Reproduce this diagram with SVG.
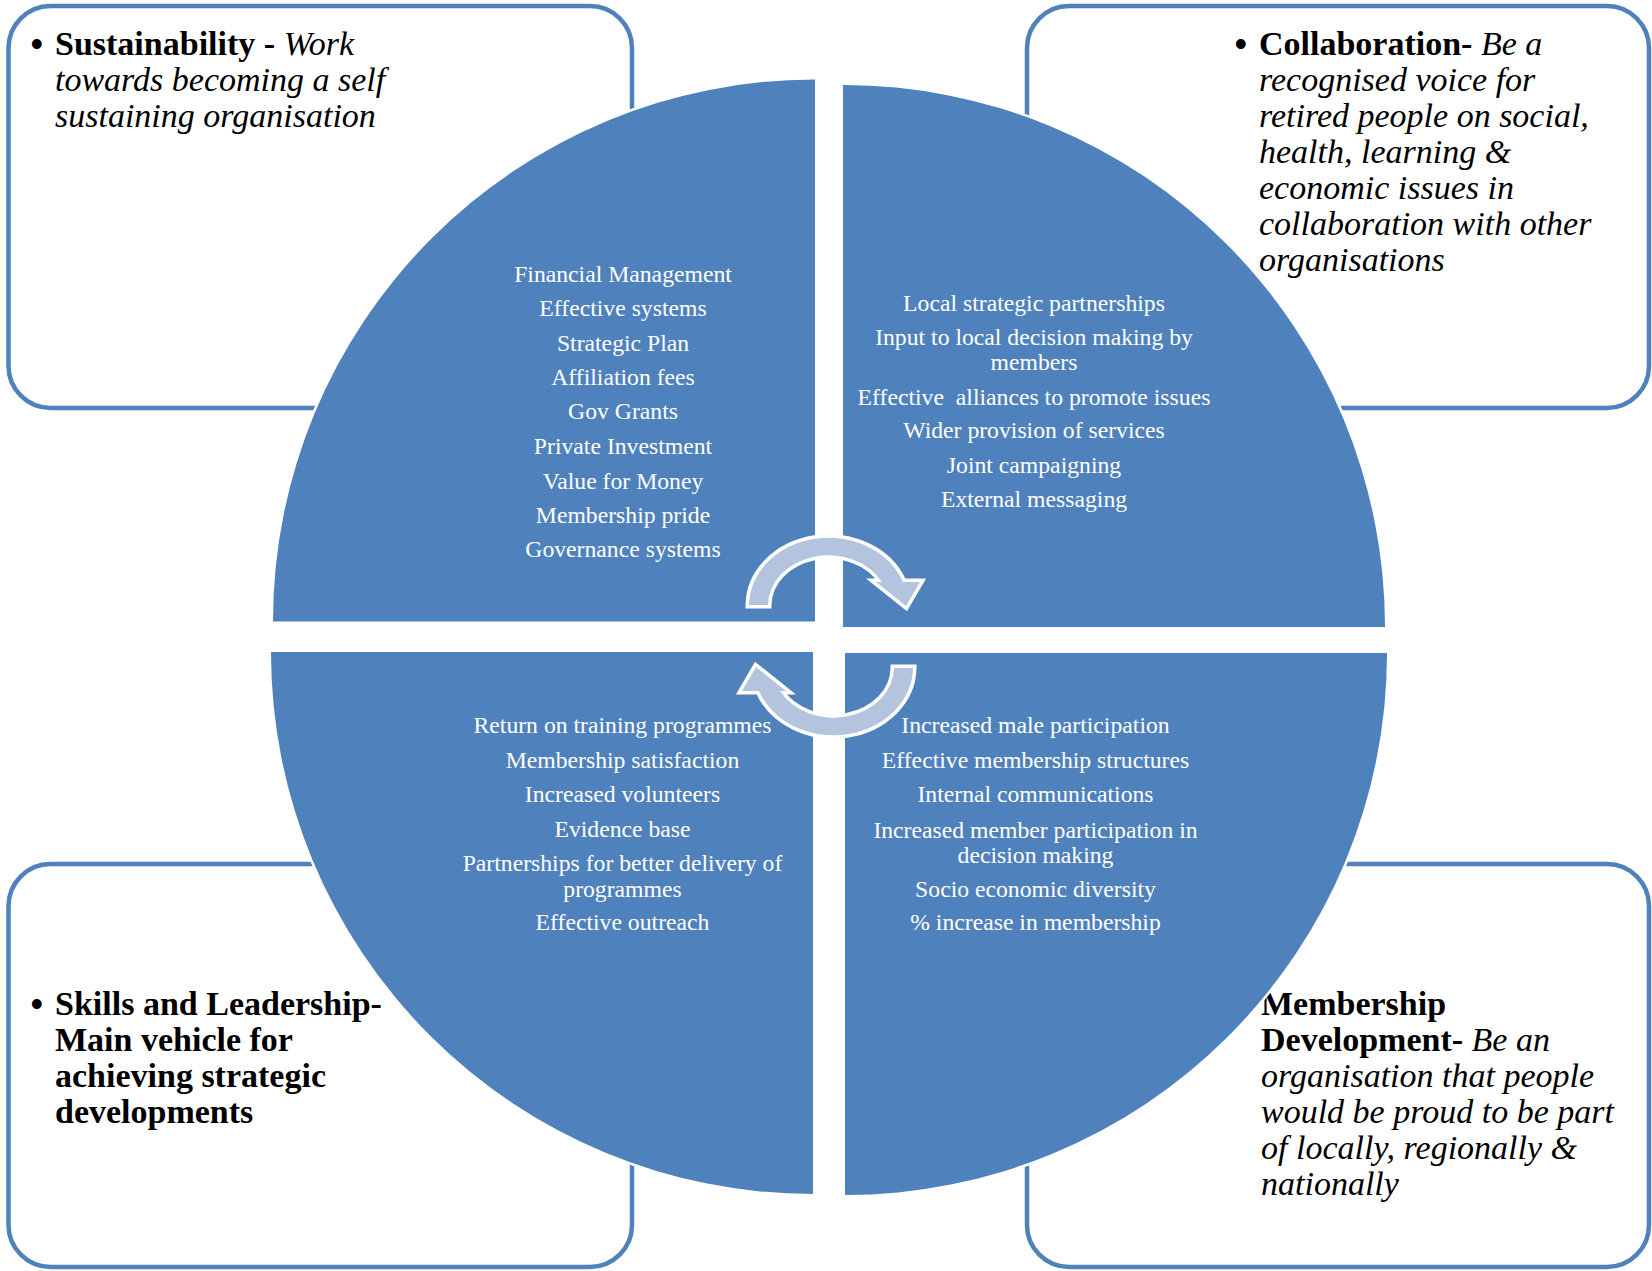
<svg xmlns="http://www.w3.org/2000/svg" width="1652" height="1271" viewBox="0 0 1652 1271">
  <style>
    .box { fill: #ffffff; stroke: #4F81BD; stroke-width: 4.5; }
    .quad { fill: #4F81BD; stroke: #ffffff; stroke-width: 5; paint-order: stroke; }
    .cyc { fill: #B4C4DF; stroke: #ffffff; stroke-width: 7; paint-order: stroke; stroke-linejoin: miter; }
    .head { font-family: "Liberation Serif", "Times New Roman", serif; font-size: 34px; fill: #000000; }
    .dot { font-family: "Liberation Sans", Arial, sans-serif; font-size: 36px; fill: #000000; }
    .b { font-weight: bold; }
    .i { font-style: italic; }
    .item { font-family: "Liberation Serif", "Times New Roman", serif; font-size: 23.7px; fill: #ffffff; text-anchor: middle; }
  </style>

  <!-- corner boxes -->
  <g id="box-sustainability">
    <rect class="box" x="8.5" y="6" width="623.5" height="402" rx="42" ry="42"/>
    <text class="dot" x="30.5" y="56">•</text>
    <text class="head" x="55" y="55"><tspan class="b">Sustainability -</tspan><tspan class="i"> Work</tspan></text>
    <text class="head i" x="55" y="91">towards becoming a self</text>
    <text class="head i" x="55" y="127">sustaining organisation</text>
  </g>

  <g id="box-collaboration">
    <rect class="box" x="1027" y="6" width="622" height="402" rx="42" ry="42"/>
    <text class="dot" x="1234.5" y="56">•</text>
    <text class="head" x="1259" y="55"><tspan class="b">Collaboration-</tspan><tspan class="i"> Be a</tspan></text>
    <text class="head i" x="1259" y="91">recognised voice for</text>
    <text class="head i" x="1259" y="127">retired people on social,</text>
    <text class="head i" x="1259" y="163">health, learning &amp;</text>
    <text class="head i" x="1259" y="199">economic issues in</text>
    <text class="head i" x="1259" y="235">collaboration with other</text>
    <text class="head i" x="1259" y="271">organisations</text>
  </g>

  <g id="box-skills">
    <rect class="box" x="8.5" y="864" width="623.5" height="403" rx="42" ry="42"/>
    <text class="dot" x="30.5" y="1016">•</text>
    <text class="head b" x="55" y="1015">Skills and Leadership-</text>
    <text class="head b" x="55" y="1051">Main vehicle for</text>
    <text class="head b" x="55" y="1087">achieving strategic</text>
    <text class="head b" x="55" y="1123">developments</text>
  </g>

  <g id="box-membership">
    <rect class="box" x="1027" y="864" width="622" height="403" rx="42" ry="42"/>
    <text class="head b" x="1261" y="1015">Membership</text>
    <text class="head" x="1261" y="1051"><tspan class="b">Development-</tspan><tspan class="i"> Be an</tspan></text>
    <text class="head i" x="1261" y="1087">organisation that people</text>
    <text class="head i" x="1261" y="1123">would be proud to be part</text>
    <text class="head i" x="1261" y="1159">of locally, regionally &amp;</text>
    <text class="head i" x="1261" y="1195">nationally</text>
  </g>

  <!-- quarter segments of the central circle -->
  <g id="quad-finance">
    <path class="quad" d="M815,621.5 L273,621.5 A542,542 0 0 1 815,79.5 Z"/>
    <text class="item" x="623" y="282.3">Financial Management</text>
    <text class="item" x="623" y="316">Effective systems</text>
    <text class="item" x="623" y="350.8">Strategic Plan</text>
    <text class="item" x="623" y="384.5">Affiliation fees</text>
    <text class="item" x="623" y="419.3">Gov Grants</text>
    <text class="item" x="623" y="454">Private Investment</text>
    <text class="item" x="623" y="488.8">Value for Money</text>
    <text class="item" x="623" y="522.5">Membership pride</text>
    <text class="item" x="623" y="557.3">Governance systems</text>
  </g>

  <g id="quad-partnership">
    <path class="quad" d="M843,627 L843,85 A542,542 0 0 1 1385,627 Z"/>
    <text class="item" x="1034" y="310.7">Local strategic partnerships</text>
    <text class="item" x="1034" y="344.5">Input to local decision making by</text>
    <text class="item" x="1034" y="369.5">members</text>
    <text class="item" x="1034" y="404.5" xml:space="preserve">Effective  alliances to promote issues</text>
    <text class="item" x="1034" y="438.2">Wider provision of services</text>
    <text class="item" x="1034" y="473">Joint campaigning</text>
    <text class="item" x="1034" y="506.7">External messaging</text>
  </g>

  <g id="quad-skills">
    <path class="quad" d="M813,652 L813,1194 A542,542 0 0 1 271,652 Z"/>
    <text class="item" x="622.5" y="733.2">Return on training programmes</text>
    <text class="item" x="622.5" y="768">Membership satisfaction</text>
    <text class="item" x="622.5" y="801.7">Increased volunteers</text>
    <text class="item" x="622.5" y="836.5">Evidence base</text>
    <text class="item" x="622.5" y="871.2">Partnerships for better delivery of</text>
    <text class="item" x="622.5" y="896.5">programmes</text>
    <text class="item" x="622.5" y="930.3">Effective outreach</text>
  </g>

  <g id="quad-membership">
    <path class="quad" d="M845,653 L1387,653 A542,542 0 0 1 845,1195 Z"/>
    <text class="item" x="1035.5" y="733.2">Increased male participation</text>
    <text class="item" x="1035.5" y="768">Effective membership structures</text>
    <text class="item" x="1035.5" y="801.7">Internal communications</text>
    <text class="item" x="1035.5" y="837.5">Increased member participation in</text>
    <text class="item" x="1035.5" y="862.8">decision making</text>
    <text class="item" x="1035.5" y="896.5">Socio economic diversity</text>
    <text class="item" x="1035.5" y="930.3">% increase in membership</text>
  </g>

  <!-- circular arrows linking the segments -->
  <g id="connectors">
    <path id="cycle-top" class="cyc" d="M749,605 A79.5,68 0 0 1 903,582 L920,582 L906,606 L876,582 L882,582 A60.5,50 0 0 0 768,605 Z"/>
    <path id="cycle-bottom" class="cyc" transform="rotate(180 831 636.5)" d="M749,605 A79.5,68 0 0 1 903,582 L920,582 L906,606 L876,582 L882,582 A60.5,50 0 0 0 768,605 Z"/>
  </g>
</svg>
